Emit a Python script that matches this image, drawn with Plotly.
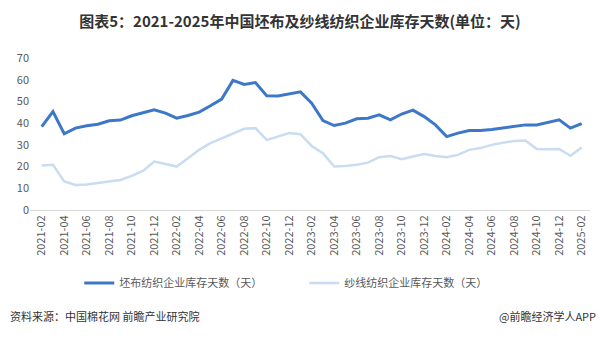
import plotly.graph_objects as go

months = [f"{y}-{m:02d}" for y in range(2021, 2026) for m in range(1, 13)]
months = months[1:50]  # 2021-02 .. 2025-02

greige_days = [
    38.4, 45.3, 35.1, 37.7, 38.8, 39.5, 41.1, 41.4, 43.4, 44.9, 46.1, 44.6,
    42.3, 43.5, 45.1, 48.0, 51.1, 59.7, 57.8, 58.7, 52.6, 52.5, 53.5, 54.4,
    49.2, 41.2, 38.9, 40.0, 42.0, 42.3, 43.8, 41.5, 44.2, 46.0, 43.0, 39.2,
    33.8, 35.4, 36.6, 36.6, 37.1, 37.8, 38.5, 39.2, 39.2, 40.3, 41.5, 37.7,
    39.8,
]
yarn_days = [
    20.5, 20.8, 13.1, 11.5, 11.8, 12.3, 13.1, 13.8, 15.7, 18.0, 22.3, 21.2,
    20.0, 23.8, 27.7, 30.8, 33.1, 35.4, 37.4, 37.7, 32.3, 33.8, 35.4, 34.9,
    29.5, 26.2, 20.0, 20.3, 20.8, 21.8, 24.3, 24.9, 23.4, 24.6, 25.8, 24.9,
    24.3, 25.4, 27.7, 28.5, 30.0, 31.0, 31.8, 32.0, 28.1, 28.0, 28.1, 25.0,
    28.8,
]

tick_labels = months[::2]

fig = go.Figure()
fig.add_trace(go.Scatter(
    x=months, y=greige_days, mode="lines", name="坯布纺织企业库存天数（天）",
    line=dict(color="#3d78c8", width=3),
))
fig.add_trace(go.Scatter(
    x=months, y=yarn_days, mode="lines", name="纱线纺织企业库存天数（天）",
    line=dict(color="#c9dcf2", width=2.5),
))

font_family = "Noto Sans CJK SC, Noto Sans, sans-serif"

fig.update_layout(
    width=600, height=338,
    margin=dict(l=30, r=10, t=58, b=128),
    paper_bgcolor="white", plot_bgcolor="white",
    font=dict(family=font_family, color="#595959", size=11),
    showlegend=True,
    legend=dict(
        orientation="h", x=0.088, xanchor="left", y=-0.48, yanchor="middle",
        font=dict(size=11, color="#595959"),
        entrywidth=180, entrywidthmode="pixels",
    ),
    title=dict(
        text="<b>图表5：2021-2025年中国坯布及纱线纺织企业库存天数(单位：天)</b>",
        x=0.5, xanchor="center", y=0.935, yanchor="middle",
        font=dict(size=15, color="#333333", family=font_family),
    ),
)
fig.update_xaxes(
    type="category", range=[-1.04, 48.74],
    tickmode="array", tickvals=tick_labels, ticktext=tick_labels,
    tickangle=-90, showgrid=False, showline=True, linecolor="#d9d9d9",
    linewidth=1, ticks="", tickfont=dict(size=11, color="#595959"),
)
fig.update_yaxes(
    range=[0, 70], dtick=10, showgrid=False, zeroline=False, showline=False,
    ticks="", tickfont=dict(size=11, color="#595959"),
)

fig.add_annotation(
    text="资料来源：中国棉花网 前瞻产业研究院", xref="paper", yref="paper",
    x=-0.04, xanchor="left", y=-0.70, yanchor="middle", showarrow=False,
    font=dict(size=11, color="#333333"),
)
fig.add_annotation(
    text="@前瞻经济学人APP", xref="paper", yref="paper",
    x=1.015, xanchor="right", y=-0.70, yanchor="middle", showarrow=False,
    font=dict(size=11, color="#333333"),
)

fig.write_html("out.html")
